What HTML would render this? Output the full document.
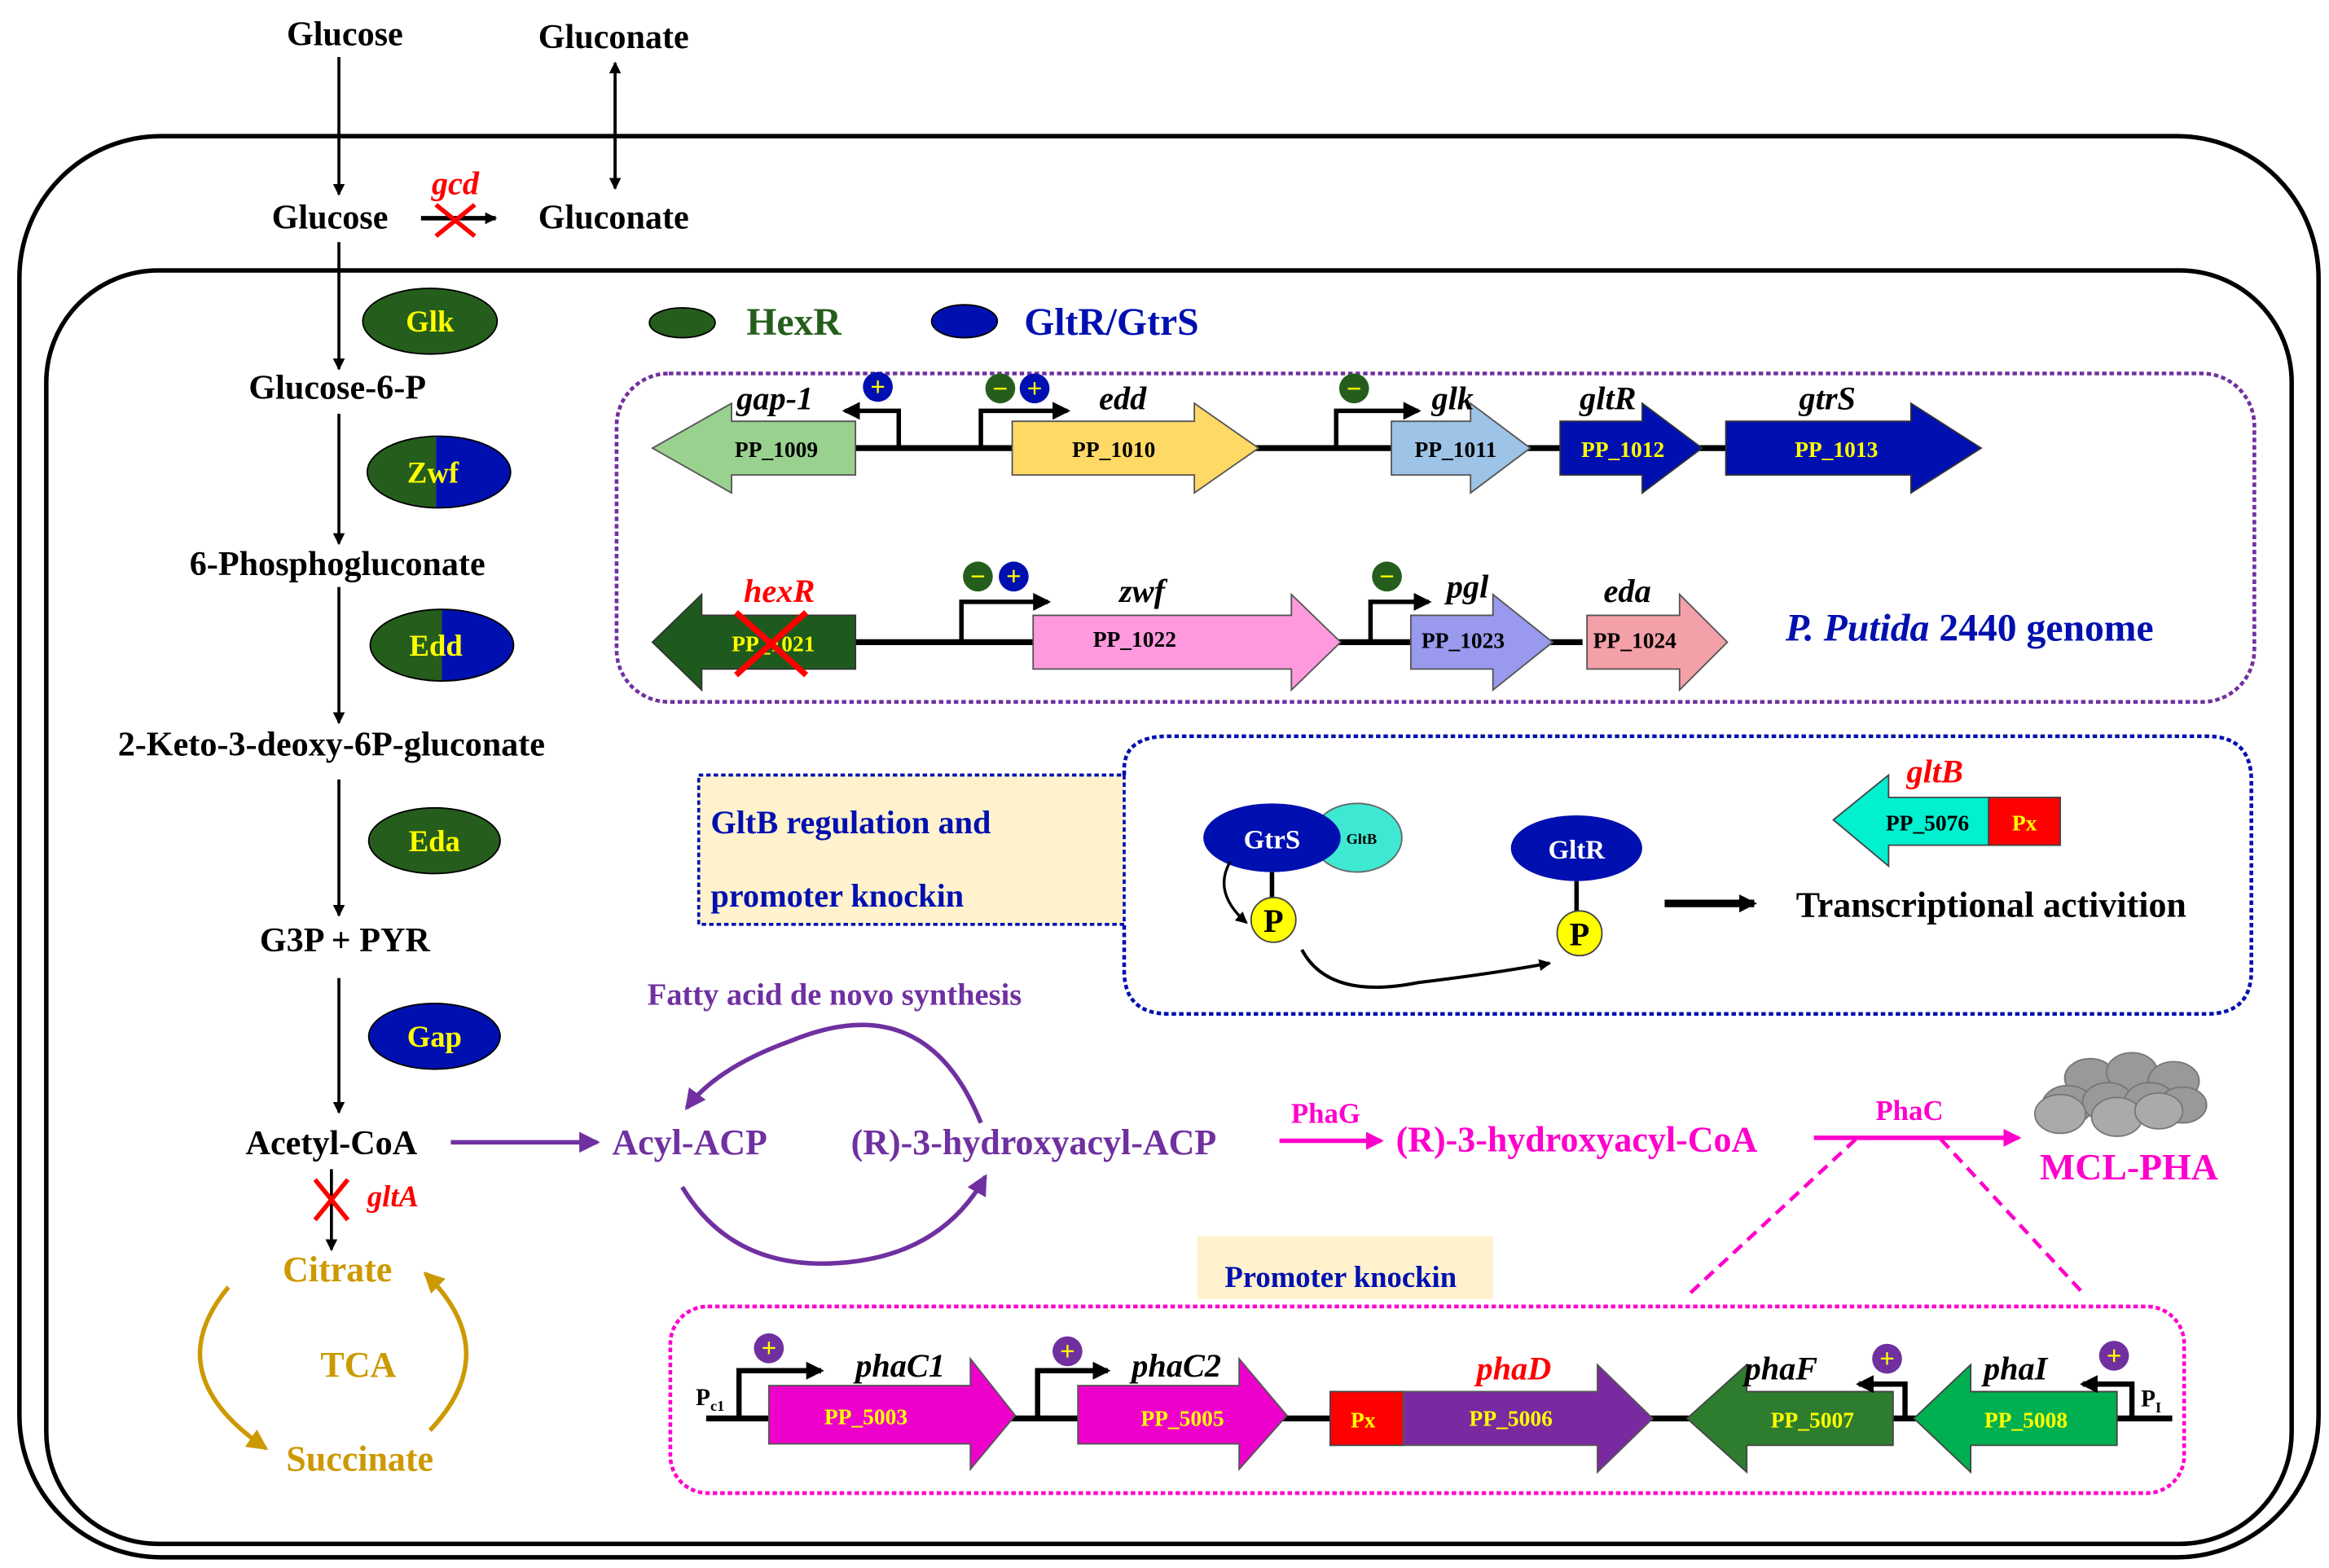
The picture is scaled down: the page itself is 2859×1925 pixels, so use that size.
<!DOCTYPE html>
<html><head><meta charset="utf-8"><style>
html,body{margin:0;padding:0;background:#fff;width:2859px;height:1925px;overflow:hidden}
svg{display:block}
text{font-family:"Liberation Serif",serif;font-weight:bold}
</style></head><body>
<svg width="2859" height="1925" viewBox="0 0 1560 1050" xmlns="http://www.w3.org/2000/svg">
<defs>
<marker id="ab" markerWidth="8" markerHeight="8" refX="7" refY="4" orient="auto" markerUnits="userSpaceOnUse"><path d="M0,0 L8,4 L0,8 Z" fill="#000"/></marker>
<marker id="ab2" markerWidth="12" markerHeight="12" refX="10" refY="6" orient="auto" markerUnits="userSpaceOnUse"><path d="M0,0 L12,6 L0,12 Z" fill="#000"/></marker>
<marker id="ap" markerWidth="14" markerHeight="14" refX="12" refY="7" orient="auto" markerUnits="userSpaceOnUse"><path d="M0,0 L14,7 L0,14 Z" fill="#7030a0"/></marker>
<marker id="am" markerWidth="12" markerHeight="12" refX="10" refY="6" orient="auto" markerUnits="userSpaceOnUse"><path d="M0,0 L12,6 L0,12 Z" fill="#ff00cc"/></marker>
<marker id="ao" markerWidth="14" markerHeight="14" refX="12" refY="7" orient="auto" markerUnits="userSpaceOnUse"><path d="M0,0 L14,7 L0,14 Z" fill="#cc9900"/></marker>
</defs>

<!-- membranes -->
<rect x="13" y="91" width="1540" height="952" rx="95" fill="none" stroke="#000" stroke-width="3"/>
<rect x="31" y="181" width="1504" height="853" rx="75" fill="none" stroke="#000" stroke-width="3"/>

<!-- top texts -->
<g font-size="23" text-anchor="middle">
<text x="231" y="30">Glucose</text>
<text x="411" y="32">Gluconate</text>
<text x="221" y="153">Glucose</text>
<text x="411" y="153">Gluconate</text>
<text x="226" y="267">Glucose-6-P</text>
<text x="226" y="385">6-Phosphogluconate</text>
<text x="222" y="506">2-Keto-3-deoxy-6P-gluconate</text>
<text x="231" y="637">G3P  +  PYR</text>
<text x="222" y="773">Acetyl-CoA</text>
</g>
<g stroke="#000" stroke-width="2" fill="none">
<line x1="227" y1="38" x2="227" y2="130" marker-end="url(#ab)"/>
<line x1="412" y1="126" x2="412" y2="42" marker-end="url(#ab)"/>
<line x1="412" y1="54" x2="412" y2="126" marker-end="url(#ab)"/>
<line x1="282" y1="146" x2="332" y2="146" stroke-width="3" marker-end="url(#ab)"/>
<line x1="227" y1="162" x2="227" y2="247" marker-end="url(#ab)"/>
<line x1="227" y1="277" x2="227" y2="364" marker-end="url(#ab)"/>
<line x1="227" y1="393" x2="227" y2="484" marker-end="url(#ab)"/>
<line x1="227" y1="522" x2="227" y2="613" marker-end="url(#ab)"/>
<line x1="227" y1="655" x2="227" y2="745" marker-end="url(#ab)"/>
<line x1="222" y1="783" x2="222" y2="837" marker-end="url(#ab)"/>
</g>
<g stroke="#ff0000" stroke-width="3"><line x1="292" y1="137" x2="318" y2="158"/><line x1="318" y1="137" x2="292" y2="158"/>
<line x1="211" y1="790" x2="233" y2="817"/><line x1="233" y1="790" x2="211" y2="817"/></g>
<text x="305" y="130" font-size="22" fill="#f00" font-style="italic" text-anchor="middle">gcd</text>
<text x="246" y="808" font-size="20" fill="#f00" font-style="italic">gltA</text>

<!-- enzymes -->
<defs><clipPath id="zc"><ellipse cx="294" cy="316" rx="48" ry="24"/></clipPath><clipPath id="ec"><ellipse cx="296" cy="432" rx="48" ry="24"/></clipPath></defs>
<ellipse cx="288" cy="215" rx="45" ry="22" fill="#255e1c" stroke="#000"/>
<text x="288" y="222" font-size="20" fill="#ff0" text-anchor="middle">Glk</text>
<g clip-path="url(#zc)"><rect x="240" y="290" width="52" height="52" fill="#255e1c"/><rect x="292" y="290" width="52" height="52" fill="#0010b0"/></g>
<ellipse cx="294" cy="316" rx="48" ry="24" fill="none" stroke="#000"/>
<text x="290" y="323" font-size="20" fill="#ff0" text-anchor="middle">Zwf</text>
<g clip-path="url(#ec)"><rect x="246" y="406" width="50" height="52" fill="#255e1c"/><rect x="296" y="406" width="52" height="52" fill="#0010b0"/></g>
<ellipse cx="296" cy="432" rx="48" ry="24" fill="none" stroke="#000"/>
<text x="292" y="439" font-size="20" fill="#ff0" text-anchor="middle">Edd</text>
<ellipse cx="291" cy="563" rx="44" ry="22" fill="#255e1c" stroke="#000"/>
<text x="291" y="570" font-size="20" fill="#ff0" text-anchor="middle">Eda</text>
<ellipse cx="291" cy="694" rx="44" ry="22" fill="#0010b0" stroke="#000"/>
<text x="291" y="701" font-size="20" fill="#ff0" text-anchor="middle">Gap</text>

<!-- legend -->
<ellipse cx="457" cy="216" rx="22" ry="10" fill="#255e1c" stroke="#000"/>
<text x="500" y="224" font-size="26" fill="#255e1c">HexR</text>
<ellipse cx="646" cy="215" rx="22" ry="11" fill="#0010b0" stroke="#000"/>
<text x="686" y="224" font-size="26" fill="#0010b0">GltR/GtrS</text>

<!-- genome box -->
<rect x="413" y="250" width="1097" height="220" rx="35" fill="none" stroke="#7030a0" stroke-width="2.5" stroke-dasharray="3,2"/>
<line x1="573" y1="300" x2="1200" y2="300" stroke="#000" stroke-width="4"/>
<polygon points="437,300 490,270 490,282 573,282 573,318 490,318 490,330" fill="#99d18f" stroke="#555"/>
<polygon points="678,282 800,282 800,270 843,300 800,330 800,318 678,318" fill="#ffd966" stroke="#555"/>
<polygon points="932,282 985,282 985,270 1025,300 985,330 985,318 932,318" fill="#9dc3e6" stroke="#555"/>
<polygon points="1045,282 1100,282 1100,270 1140,300 1100,330 1100,318 1045,318" fill="#0010b0" stroke="#333"/>
<polygon points="1156,282 1280,282 1280,270 1327,300 1280,330 1280,318 1156,318" fill="#0010b0" stroke="#333"/>
<g font-size="15" text-anchor="middle">
<text x="520" y="306">PP_1009</text><text x="746" y="306">PP_1010</text><text x="975" y="306">PP_1011</text>
<text x="1087" y="306" fill="#ff0">PP_1012</text><text x="1230" y="306" fill="#ff0">PP_1013</text>
</g>
<g font-size="22" font-style="italic" text-anchor="middle">
<text x="519" y="274">gap-1</text><text x="752" y="274">edd</text><text x="973" y="274">glk</text><text x="1077" y="274">gltR</text><text x="1224" y="274">gtrS</text>
</g>
<!-- promoters row1 -->
<g stroke="#000" stroke-width="3" fill="none">
<path d="M602,300 V275 H566" marker-end="url(#ab2)"/>
<path d="M657,300 V275 H715" marker-end="url(#ab2)"/>
<path d="M895,300 V275 H950" marker-end="url(#ab2)"/>
</g>

<line x1="573" y1="430" x2="1060" y2="430" stroke="#000" stroke-width="4"/>
<polygon points="437,430 470,398 470,412 573,412 573,448 470,448 470,462" fill="#1e5a1e" stroke="#333"/>
<polygon points="692,412 865,412 865,398 898,430 865,462 865,448 692,448" fill="#ff99dd" stroke="#555"/>
<polygon points="945,412 1000,412 1000,398 1040,430 1000,462 1000,448 945,448" fill="#9999ee" stroke="#555"/>
<polygon points="1063,412 1125,412 1125,398 1157,430 1125,462 1125,448 1063,448" fill="#f4a0a8" stroke="#555"/>
<g font-size="15" text-anchor="middle">
<text x="518" y="436" fill="#ff0">PP_1021</text><text x="760" y="433">PP_1022</text><text x="980" y="434">PP_1023</text><text x="1095" y="434">PP_1024</text>
</g>
<g stroke="#f00" stroke-width="4"><line x1="493" y1="410" x2="540" y2="452"/><line x1="540" y1="410" x2="493" y2="452"/></g>
<g font-size="22" font-style="italic" text-anchor="middle">
<text x="522" y="403" fill="#f00">hexR</text><text x="765" y="403">zwf</text><text x="983" y="400">pgl</text><text x="1090" y="403">eda</text>
</g>
<g stroke="#000" stroke-width="3" fill="none">
<path d="M644,430 V403 H702" marker-end="url(#ab2)"/>
<path d="M918,430 V403 H957" marker-end="url(#ab2)"/>
</g>
<text x="1196" y="429" font-size="26" fill="#0010b0"><tspan font-style="italic">P. Putida</tspan> 2440 genome</text>

<!-- sign circles -->
<g font-size="18" text-anchor="middle">
<circle cx="588" cy="259" r="10" fill="#0010b0"/><text x="588" y="265" fill="#ff0">+</text>
<circle cx="670" cy="260" r="10" fill="#255e1c"/><text x="670" y="266" fill="#ff0">−</text>
<circle cx="693" cy="260" r="10" fill="#0010b0"/><text x="693" y="266" fill="#ff0">+</text>
<circle cx="907" cy="260" r="10" fill="#255e1c"/><text x="907" y="266" fill="#ff0">−</text>
<circle cx="655" cy="386" r="10" fill="#255e1c"/><text x="655" y="392" fill="#ff0">−</text>
<circle cx="679" cy="386" r="10" fill="#0010b0"/><text x="679" y="392" fill="#ff0">+</text>
<circle cx="929" cy="386" r="10" fill="#255e1c"/><text x="929" y="392" fill="#ff0">−</text>
</g>

<!-- GltB regulation -->
<rect x="468" y="519" width="285" height="100" fill="#fff2cc" stroke="#0010b0" stroke-width="2" stroke-dasharray="3,2"/>
<text x="476" y="558" font-size="22" fill="#0010b0">GltB regulation and</text>
<text x="476" y="607" font-size="22" fill="#0010b0">promoter knockin</text>
<path d="M753,519 V515 Q753,493 783,493 H1478 Q1508,493 1508,523 V650 Q1508,679 1478,679 H783 Q753,679 753,650 V619" fill="none" stroke="#0010b0" stroke-width="2.5" stroke-dasharray="3,2"/>
<ellipse cx="909" cy="561" rx="30" ry="23" fill="#3ee8d2" stroke="#666"/>
<ellipse cx="852" cy="561" rx="46" ry="23" fill="#0010b0"/>
<text x="852" y="568" font-size="18" fill="#fff" text-anchor="middle">GtrS</text>
<text x="912" y="565" font-size="10" text-anchor="middle">GltB</text>
<line x1="852" y1="584" x2="852" y2="603" stroke="#000" stroke-width="3"/>
<ellipse cx="853" cy="616" rx="15" ry="15" fill="#ff0" stroke="#444"/>
<text x="853" y="624" font-size="22" text-anchor="middle">P</text>
<path d="M824,577 Q812,598 835,618" fill="none" stroke="#000" stroke-width="1.8" marker-end="url(#ab)"/>
<ellipse cx="1056" cy="568" rx="44" ry="22" fill="#0010b0"/>
<text x="1056" y="575" font-size="18" fill="#fff" text-anchor="middle">GltR</text>
<line x1="1056" y1="590" x2="1056" y2="612" stroke="#000" stroke-width="3"/>
<ellipse cx="1058" cy="625" rx="15" ry="15" fill="#ff0" stroke="#444"/>
<text x="1058" y="633" font-size="22" text-anchor="middle">P</text>
<path d="M872,636 Q890,670 950,658 Q1000,652 1038,645" fill="none" stroke="#000" stroke-width="2.2" marker-end="url(#ab)"/>
<line x1="1115" y1="605" x2="1175" y2="605" stroke="#000" stroke-width="5" marker-end="url(#ab2)"/>
<text x="1203" y="614" font-size="24">Transcriptional activition</text>
<polygon points="1228,549 1265,519 1265,534 1332,534 1332,566 1265,566 1265,580" fill="#00f0d0" stroke="#444"/>
<rect x="1332" y="534" width="48" height="32" fill="#f00" stroke="#444"/>
<text x="1291" y="556" font-size="15" text-anchor="middle">PP_5076</text>
<text x="1356" y="556" font-size="15" fill="#ff0" text-anchor="middle">Px</text>
<text x="1296" y="524" font-size="22" fill="#f00" font-style="italic" text-anchor="middle">gltB</text>

<!-- fatty acid -->
<text x="559" y="673" font-size="21" fill="#7030a0" text-anchor="middle">Fatty acid de novo synthesis</text>
<line x1="302" y1="765" x2="400" y2="765" stroke="#7030a0" stroke-width="3" marker-end="url(#ap)"/>
<text x="410" y="773" font-size="24" fill="#7030a0">Acyl-ACP</text>
<text x="570" y="773" font-size="24" fill="#7030a0">(R)-3-hydroxyacyl-ACP</text>
<path d="M657,752 Q620,660 530,697 Q480,715 460,742" fill="none" stroke="#7030a0" stroke-width="3" marker-end="url(#ap)"/>
<path d="M457,795 Q490,850 560,846 Q630,842 660,788" fill="none" stroke="#7030a0" stroke-width="3" marker-end="url(#ap)"/>
<text x="888" y="752" font-size="19" fill="#ff00cc" text-anchor="middle">PhaG</text>
<line x1="857" y1="764" x2="925" y2="764" stroke="#ff00cc" stroke-width="3" marker-end="url(#am)"/>
<text x="935" y="771" font-size="24" fill="#ff00cc">(R)-3-hydroxyacyl-CoA</text>
<text x="1279" y="750" font-size="19" fill="#ff00cc" text-anchor="middle">PhaC</text>
<line x1="1215" y1="762" x2="1352" y2="762" stroke="#ff00cc" stroke-width="3" marker-end="url(#am)"/>
<text x="1426" y="790" font-size="25" fill="#ff00cc" text-anchor="middle">MCL-PHA</text>
<g fill="#999" stroke="#777">
<ellipse cx="1400" cy="722" rx="17" ry="13"/><ellipse cx="1428" cy="718" rx="17" ry="13"/><ellipse cx="1456" cy="724" rx="17" ry="13"/>
<ellipse cx="1385" cy="740" rx="17" ry="13"/><ellipse cx="1412" cy="738" rx="17" ry="13"/><ellipse cx="1440" cy="738" rx="17" ry="13"/><ellipse cx="1462" cy="740" rx="16" ry="12"/>
<ellipse cx="1380" cy="746" rx="17" ry="13" fill="#aaa"/><ellipse cx="1418" cy="748" rx="17" ry="13" fill="#aaa"/><ellipse cx="1446" cy="744" rx="16" ry="12" fill="#aaa"/>
</g>
<g stroke="#ff00cc" stroke-width="2.5" stroke-dasharray="8,5"><line x1="1243" y1="763" x2="1130" y2="868"/><line x1="1300" y1="763" x2="1397" y2="868"/></g>

<!-- TCA -->
<text x="226" y="858" font-size="24" fill="#cc9900" text-anchor="middle">Citrate</text>
<text x="240" y="922" font-size="24" fill="#cc9900" text-anchor="middle">TCA</text>
<text x="241" y="985" font-size="24" fill="#cc9900" text-anchor="middle">Succinate</text>
<path d="M153,862 Q105,920 178,970" fill="none" stroke="#cc9900" stroke-width="3" marker-end="url(#ao)"/>
<path d="M288,958 Q338,905 285,853" fill="none" stroke="#cc9900" stroke-width="3" marker-end="url(#ao)"/>

<!-- promoter knockin -->
<rect x="802" y="828" width="198" height="42" fill="#fff2cc"/>
<text x="898" y="862" font-size="20" fill="#0010b0" text-anchor="middle">Promoter knockin</text>
<rect x="449" y="875" width="1014" height="125" rx="25" fill="none" stroke="#ff00cc" stroke-width="2.5" stroke-dasharray="3,2"/>
<line x1="473" y1="950" x2="1455" y2="950" stroke="#000" stroke-width="4"/>
<polygon points="515,928 650,928 650,910 680,948 650,984 650,967 515,967" fill="#ee00cc" stroke="#555"/>
<polygon points="722,928 830,928 830,910 862,948 830,984 830,967 722,967" fill="#ee00cc" stroke="#555"/>
<rect x="891" y="932" width="49" height="36" fill="#f00" stroke="#444"/>
<polygon points="940,932 1070,932 1070,914 1107,950 1070,986 1070,968 940,968" fill="#7a2aa0" stroke="#555"/>
<polygon points="1130,950 1170,914 1170,932 1268,932 1268,968 1170,968 1170,986" fill="#2e7d2e" stroke="#444"/>
<polygon points="1282,950 1320,914 1320,932 1418,932 1418,968 1320,968 1320,986" fill="#00b050" stroke="#444"/>
<g font-size="15" fill="#ff0" text-anchor="middle">
<text x="580" y="954">PP_5003</text><text x="792" y="955">PP_5005</text><text x="913" y="956">Px</text><text x="1012" y="955">PP_5006</text><text x="1214" y="956">PP_5007</text><text x="1357" y="956">PP_5008</text>
</g>
<g font-size="22" font-style="italic" text-anchor="middle">
<text x="603" y="922">phaC1</text><text x="788" y="922">phaC2</text><text x="1014" y="924" fill="#f00">phaD</text><text x="1193" y="924">phaF</text><text x="1350" y="924">phaI</text>
</g>
<text x="466" y="941" font-size="16">P<tspan font-size="10" dy="4">c1</tspan></text>
<text x="1434" y="942" font-size="16">P<tspan font-size="10" dy="4">I</tspan></text>
<g stroke="#000" stroke-width="3.5" fill="none">
<path d="M495,950 V918 H550" marker-end="url(#ab2)"/>
<path d="M695,950 V918 H742" marker-end="url(#ab2)"/>
<path d="M1276,950 V927 H1245" marker-end="url(#ab2)"/>
<path d="M1428,950 V927 H1395" marker-end="url(#ab2)"/>
</g>
<g font-size="18" text-anchor="middle">
<circle cx="515" cy="903" r="10" fill="#7030a0"/><text x="515" y="909" fill="#ff0">+</text>
<circle cx="715" cy="905" r="10" fill="#7030a0"/><text x="715" y="911" fill="#ff0">+</text>
<circle cx="1264" cy="910" r="10" fill="#7030a0"/><text x="1264" y="916" fill="#ff0">+</text>
<circle cx="1416" cy="908" r="10" fill="#7030a0"/><text x="1416" y="914" fill="#ff0">+</text>
</g>
</svg>
</body></html>
